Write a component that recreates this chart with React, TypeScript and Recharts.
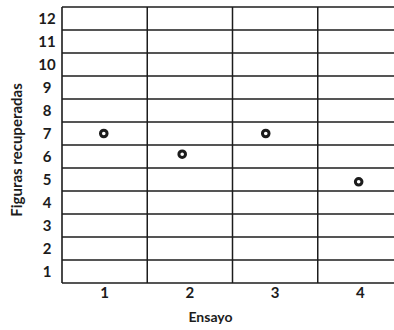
import React from 'react';
import { ScatterChart, Scatter, XAxis, YAxis, ReferenceLine } from 'recharts';

// Data
const trials = [0.99, 1.91, 2.89, 3.98];
const recalled = [6.5, 5.6, 6.5, 4.4];
const xTickLabels = [1, 2, 3, 4];
const yTickLabels = [1, 2, 3, 4, 5, 6, 7, 8, 9, 10, 11, 12];
const rowLines = [1, 2, 3, 4, 5, 6, 7, 8, 9, 10, 11, 12];
const columnLines = [1.5, 2.5, 3.5];

const points = trials.map((x, i) => ({ x, y: recalled[i] }));

const INK = '#1c1c1c';
const FONT = 'Lato, "Open Sans", sans-serif';

const YTick = (props: any) => {
  const { y, payload } = props;
  return (
    <text x={47} y={y} dy={5} textAnchor="middle" fill={INK} fontSize={15} fontWeight={700} fontFamily={FONT}>
      {payload.value + 0.5}
    </text>
  );
};

const XTick = (props: any) => {
  const { x, y, payload } = props;
  return (
    <text x={x} y={y} dy={7} textAnchor="middle" fill={INK} fontSize={15} fontWeight={700} fontFamily={FONT}>
      {payload.value}
    </text>
  );
};

const Ring = (props: any) => {
  const { cx, cy } = props;
  return <circle cx={cx} cy={cy} r={3.3} fill="#fff" stroke={INK} strokeWidth={3} />;
};

export default function App() {
  return (
    <div style={{ position: 'absolute', left: 0, top: 0, width: 394, height: 330, overflow: 'hidden', background: '#fff' }}>
      <ScatterChart width={403} height={330} margin={{ top: 7, right: 0, bottom: 0, left: 0 }}>
        <XAxis
          type="number"
          dataKey="x"
          domain={[0.5, 4.5]}
          ticks={xTickLabels}
          tickLine={false}
          axisLine={{ stroke: INK, strokeWidth: 1.6 }}
          tick={<XTick />}
          height={47}
          label={{ value: 'Ensayo', position: 'insideBottom', offset: 8, dx: -22, fill: INK, fontSize: 14, fontWeight: 700, fontFamily: FONT }}
        />
        <YAxis
          type="number"
          dataKey="y"
          domain={[0, 12]}
          ticks={yTickLabels.map((v) => v - 0.5)}
          interval={0}
          tickLine={false}
          axisLine={{ stroke: INK, strokeWidth: 1.6 }}
          tick={<YTick />}
          width={62}
          label={{ value: 'Figuras recuperadas', angle: -90, position: 'insideLeft', offset: 17, dy: 5, fill: INK, fontSize: 15, fontWeight: 700, fontFamily: FONT, style: { textAnchor: 'middle' } }}
        />
        {rowLines.map((v) => (
          <ReferenceLine key={'r' + v} y={v} stroke={INK} strokeWidth={1.5} />
        ))}
        {columnLines.map((v) => (
          <ReferenceLine key={'c' + v} x={v} stroke={INK} strokeWidth={1.5} />
        ))}
        <Scatter data={points} shape={<Ring />} isAnimationActive={false} />
      </ScatterChart>
    </div>
  );
}
